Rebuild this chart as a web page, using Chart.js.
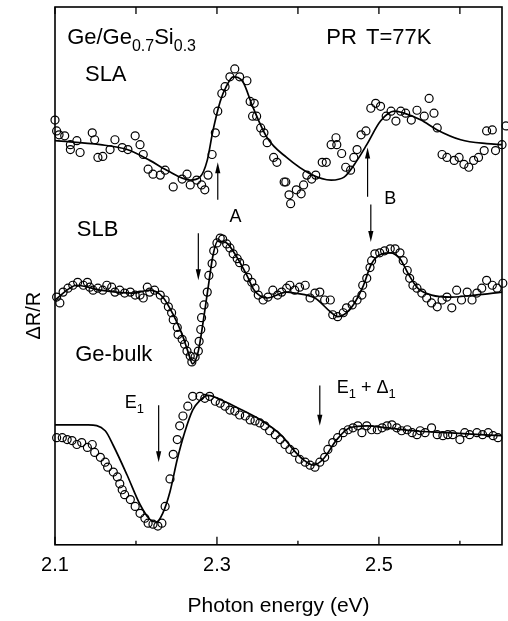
<!DOCTYPE html>
<html>
<head>
<meta charset="utf-8">
<style>
  html, body { margin: 0; padding: 0; background: #fff; }
  canvas { display: block; }
</style>
</head>
<body>
<canvas id="myChart" width="508" height="621"></canvas>
<script src="https://cdn.jsdelivr.net/npm/chart.js@4.4.0/dist/chart.umd.min.js"></script>
<script>
// photon energy (eV) vs dR/R (arbitrary units, curves offset)
const tickLabels = [2.1, 2.3, 2.5];
const minorTicks = [2.2, 2.4, 2.6];

const slaFit = [[2.100,411],[2.156,407],[2.189,402],[2.217,391],[2.238,381],[2.267,371],[2.279,374],[2.288,391],
  [2.295,421],[2.304,451],[2.312,467],[2.320,476],[2.332,471],[2.344,446],[2.362,414],[2.386,394],[2.416,377],
  [2.441,371],[2.457,374],[2.473,391],[2.485,407],[2.502,431],[2.519,441],[2.531,439],[2.552,432],[2.572,422],
  [2.601,412],[2.633,408],[2.652,407]];
const slaData = [[2.100,432],[2.102,421],[2.105,417],[2.112,416],[2.119,407],[2.127,411],[2.131,399],[2.119,402],
  [2.146,419],[2.149,412],[2.153,394],[2.159,395],[2.168,402],[2.174,412],[2.183,404],[2.190,402],[2.199,416],
  [2.205,407],[2.209,397],[2.215,382],[2.221,377],[2.230,376],[2.236,381],[2.246,364],[2.257,372],[2.263,377],
  [2.267,366],[2.275,371],[2.281,366],[2.285,361],[2.289,376],[2.294,397],[2.298,419],[2.301,441],[2.306,459],
  [2.310,466],[2.316,476],[2.322,484],[2.328,476],[2.337,472],[2.341,451],[2.344,436],[2.346,449],[2.349,436],
  [2.354,424],[2.358,419],[2.362,409],[2.370,394],[2.374,389],[2.383,369],[2.385,369],[2.389,356],[2.391,347],
  [2.398,361],[2.404,357],[2.407,366],[2.411,376],[2.417,372],[2.422,376],[2.430,389],[2.435,389],[2.441,407],
  [2.447,414],[2.448,407],[2.454,398],[2.459,384],[2.465,381],[2.469,394],[2.473,402],[2.478,417],[2.484,421],
  [2.490,444],[2.496,449],[2.502,446],[2.509,436],[2.515,441],[2.521,431],[2.527,441],[2.533,439],[2.540,432],
  [2.547,442],[2.556,436],[2.562,454],[2.568,439],[2.572,424],[2.578,397],[2.584,394],[2.593,391],[2.599,394],
  [2.605,387],[2.611,384],[2.617,391],[2.623,394],[2.630,401],[2.633,421],[2.640,422],[2.644,401],[2.652,407],
  [2.657,426]];

const slbFit = [[2.100,249],[2.127,264],[2.156,259],[2.196,256],[2.217,259],[2.233,252],[2.246,234],[2.257,214],
  [2.264,197],[2.270,184],[2.277,197],[2.283,227],[2.289,261],[2.295,294],[2.301,309],[2.312,307],[2.325,292],
  [2.337,274],[2.346,259],[2.362,251],[2.386,257],[2.396,256],[2.421,251],[2.440,237],[2.449,232],[2.460,236],
  [2.470,246],[2.480,262],[2.491,286],[2.504,296],[2.514,297],[2.526,291],[2.536,276],[2.548,261],[2.565,254],
  [2.590,252],[2.619,254],[2.652,257]];
const slbData = [[2.102,252],[2.106,246],[2.110,257],[2.116,261],[2.122,264],[2.128,267],[2.135,264],[2.140,267],
  [2.143,262],[2.147,259],[2.153,261],[2.159,259],[2.164,264],[2.170,262],[2.174,257],[2.180,259],[2.186,256],
  [2.193,257],[2.199,254],[2.205,254],[2.209,251],[2.214,262],[2.217,257],[2.223,259],[2.230,254],[2.236,249],
  [2.240,242],[2.244,236],[2.246,229],[2.251,221],[2.252,214],[2.257,209],[2.260,204],[2.263,197],[2.267,192],
  [2.269,186],[2.273,191],[2.277,197],[2.278,207],[2.280,219],[2.281,231],[2.284,244],[2.288,257],[2.290,274],
  [2.294,286],[2.296,299],[2.300,307],[2.304,312],[2.307,311],[2.312,306],[2.316,302],[2.320,296],[2.325,291],
  [2.328,287],[2.335,281],[2.338,272],[2.343,267],[2.347,261],[2.351,254],[2.357,249],[2.363,252],[2.369,259],
  [2.375,254],[2.380,257],[2.386,261],[2.390,264],[2.396,259],[2.402,262],[2.409,264],[2.415,251],[2.421,256],
  [2.427,257],[2.433,249],[2.440,249],[2.443,234],[2.449,232],[2.456,236],[2.460,241],[2.467,244],[2.473,249],
  [2.479,254],[2.480,264],[2.485,271],[2.489,282],[2.491,289],[2.495,296],[2.501,297],[2.507,299],[2.514,301],
  [2.520,301],[2.526,297],[2.530,289],[2.535,279],[2.538,271],[2.542,264],[2.547,261],[2.553,256],[2.559,251],
  [2.565,246],[2.572,242],[2.578,249],[2.584,252],[2.590,241],[2.596,259],[2.602,249],[2.609,257],[2.615,249],
  [2.621,256],[2.627,261],[2.633,269],[2.640,264],[2.646,261],[2.653,266]];

const bulkFit = [[2.100,122],[2.141,122],[2.162,116],[2.172,101],[2.189,71],[2.205,41],[2.217,26],[2.225,23],
  [2.233,32],[2.242,54],[2.251,87],[2.260,114],[2.270,137],[2.279,147],[2.289,152],[2.306,147],[2.331,137],
  [2.356,126],[2.380,111],[2.394,97],[2.406,87],[2.419,81],[2.431,87],[2.448,107],[2.464,119],[2.485,121],
  [2.510,119],[2.542,116],[2.584,114],[2.625,112],[2.652,111]];
const bulkData = [[2.102,109],[2.109,109],[2.115,107],[2.121,106],[2.127,102],[2.133,104],[2.140,99],[2.146,102],
  [2.149,94],[2.156,89],[2.162,84],[2.165,79],[2.172,74],[2.177,69],[2.180,62],[2.183,56],[2.186,51],[2.193,46],
  [2.199,39],[2.205,32],[2.211,27],[2.215,22],[2.221,21],[2.227,19],[2.232,22],[2.236,39],[2.242,67],[2.246,92],
  [2.251,107],[2.254,121],[2.258,131],[2.264,141],[2.270,151],[2.279,151],[2.285,149],[2.291,151],[2.298,146],
  [2.304,144],[2.310,141],[2.316,137],[2.322,136],[2.328,132],[2.335,131],[2.341,127],[2.347,126],[2.353,124],
  [2.359,121],[2.365,116],[2.372,112],[2.378,107],[2.384,102],[2.390,97],[2.396,94],[2.402,87],[2.409,84],
  [2.415,81],[2.421,79],[2.427,84],[2.433,89],[2.437,97],[2.443,104],[2.449,109],[2.456,114],[2.462,117],
  [2.468,119],[2.474,121],[2.479,114],[2.485,121],[2.491,117],[2.498,117],[2.504,119],[2.510,121],[2.516,122],
  [2.522,119],[2.528,116],[2.535,117],[2.541,114],[2.547,112],[2.551,116],[2.557,114],[2.565,119],[2.572,112],
  [2.579,111],[2.585,112],[2.591,112],[2.600,107],[2.606,114],[2.612,112],[2.621,114],[2.628,112],[2.635,114],
  [2.641,111],[2.647,109]];

// arrows: [energy, tail, tip]
const arrows = [[2.301,351,389],[2.486,354,404],[2.490,346,308],[2.277,317,269],[2.228,142,84],[2.427,162,121]];

const notes = [
  { parts: [['Ge/Ge',0],['0.7',1],['Si',0],['0.3',1]], e: 2.115, v: 509, size: 22 },
  { parts: [['SLA',0]], e: 2.137, v: 472, size: 22 },
  { parts: [['PR',0]], e: 2.435, v: 509, size: 22 },
  { parts: [['T=77K',0]], e: 2.484, v: 509, size: 22 },
  { parts: [['A',0]], e: 2.323, v: 328, size: 18, center: true },
  { parts: [['B',0]], e: 2.514, v: 347, size: 18, center: true },
  { parts: [['SLB',0]], e: 2.127, v: 314, size: 22 },
  { parts: [['Ge-bulk',0]], e: 2.125, v: 187, size: 22 },
  { parts: [['E',0],['1',1]], e: 2.186, v: 139, size: 18 },
  { parts: [['E',0],['1',1],[' + \u0394',0],['1',1]], e: 2.448, v: 154, size: 18 }
];

const FONT = '"Liberation Sans", Arial, sans-serif';
Chart.defaults.font.family = FONT;
Chart.defaults.color = '#000';

function drawRich(ctx, parts, px, py, size, center) {
  const sub = Math.round(size * 0.72);
  let w = 0;
  parts.forEach(([t, s]) => { ctx.font = (s ? sub : size) + 'px ' + FONT; w += ctx.measureText(t).width; });
  let cx = center ? px - w / 2 : px;
  ctx.textAlign = 'left';
  ctx.textBaseline = 'alphabetic';
  parts.forEach(([t, s]) => {
    ctx.font = (s ? sub : size) + 'px ' + FONT;
    ctx.fillText(t, cx, s ? py + size * 0.28 : py);
    cx += ctx.measureText(t).width;
  });
}

const decor = {
  id: 'decor',
  afterDraw(chart) {
    const ctx = chart.ctx, a = chart.chartArea, xs = chart.scales.x, ys = chart.scales.y;
    ctx.save();
    ctx.strokeStyle = '#000';
    ctx.fillStyle = '#000';
    ctx.lineWidth = 1.6;
    ctx.strokeRect(a.left, a.top, a.right - a.left, a.bottom - a.top);

    // inward ticks, top and bottom
    ctx.lineWidth = 1.3;
    ctx.beginPath();
    tickLabels.concat(minorTicks).forEach(v => {
      const px = xs.getPixelForValue(v);
      const len = tickLabels.includes(v) ? 8 : 4;
      ctx.moveTo(px, a.bottom); ctx.lineTo(px, a.bottom - len);
      ctx.moveTo(px, a.top); ctx.lineTo(px, a.top + 7);
    });
    ctx.stroke();

    // arrows
    ctx.lineWidth = 1.2;
    arrows.forEach(([e, from, to]) => {
      const px = xs.getPixelForValue(e);
      const y1 = ys.getPixelForValue(from), y2 = ys.getPixelForValue(to);
      const d = Math.sign(y2 - y1);
      ctx.beginPath();
      ctx.moveTo(px, y1); ctx.lineTo(px, y2 - d * 8);
      ctx.stroke();
      ctx.beginPath();
      ctx.moveTo(px, y2);
      ctx.lineTo(px - 2.6, y2 - d * 11);
      ctx.lineTo(px + 2.6, y2 - d * 11);
      ctx.closePath();
      ctx.fill();
    });

    notes.forEach(n => drawRich(ctx, n.parts, xs.getPixelForValue(n.e), ys.getPixelForValue(n.v), n.size, n.center));

    // y axis title
    ctx.translate(a.left - 21, ys.getPixelForValue(233));
    ctx.rotate(-Math.PI / 2);
    ctx.font = '20px ' + FONT;
    ctx.textAlign = 'center';
    ctx.textBaseline = 'middle';
    ctx.fillText('\u0394R/R', 0, 0);
    ctx.restore();
  }
};

const pts = arr => arr.map(([x, y]) => ({ x, y }));
const circles = arr => ({
  data: pts(arr), showLine: false, pointStyle: 'circle', pointRadius: 4,
  pointBorderWidth: 1.2, borderColor: '#000', pointBorderColor: '#000',
  backgroundColor: 'rgba(0,0,0,0)', pointBackgroundColor: 'rgba(0,0,0,0)', clip: false
});
const fit = arr => ({
  data: pts(arr), showLine: true, pointRadius: 0, borderColor: '#000', borderWidth: 1.7,
  cubicInterpolationMode: 'monotone', fill: false
});

new Chart(document.getElementById('myChart').getContext('2d'), {
  type: 'scatter',
  data: {
    datasets: [fit(slaFit), circles(slaData), fit(slbFit), circles(slbData), fit(bulkFit), circles(bulkData)]
  },
  options: {
    responsive: false,
    animation: false,
    layout: { padding: { left: 55, right: 6, top: 7, bottom: 2 } },
    plugins: { legend: { display: false }, tooltip: { enabled: false } },
    scales: {
      x: {
        type: 'linear', min: 2.1, max: 2.652,
        afterBuildTicks: s => { s.ticks = tickLabels.map(v => ({ value: v })); },
        ticks: { padding: 9, font: { size: 20 }, color: '#000', callback: v => v.toFixed(1) },
        grid: { display: false, drawTicks: false },
        border: { display: false },
        title: { display: true, text: 'Photon energy (eV)', font: { size: 21 }, color: '#000', padding: { top: 7, bottom: 0 } }
      },
      y: { display: false, min: 0, max: 547 }
    }
  },
  plugins: [decor]
});
</script>
</body>
</html>
